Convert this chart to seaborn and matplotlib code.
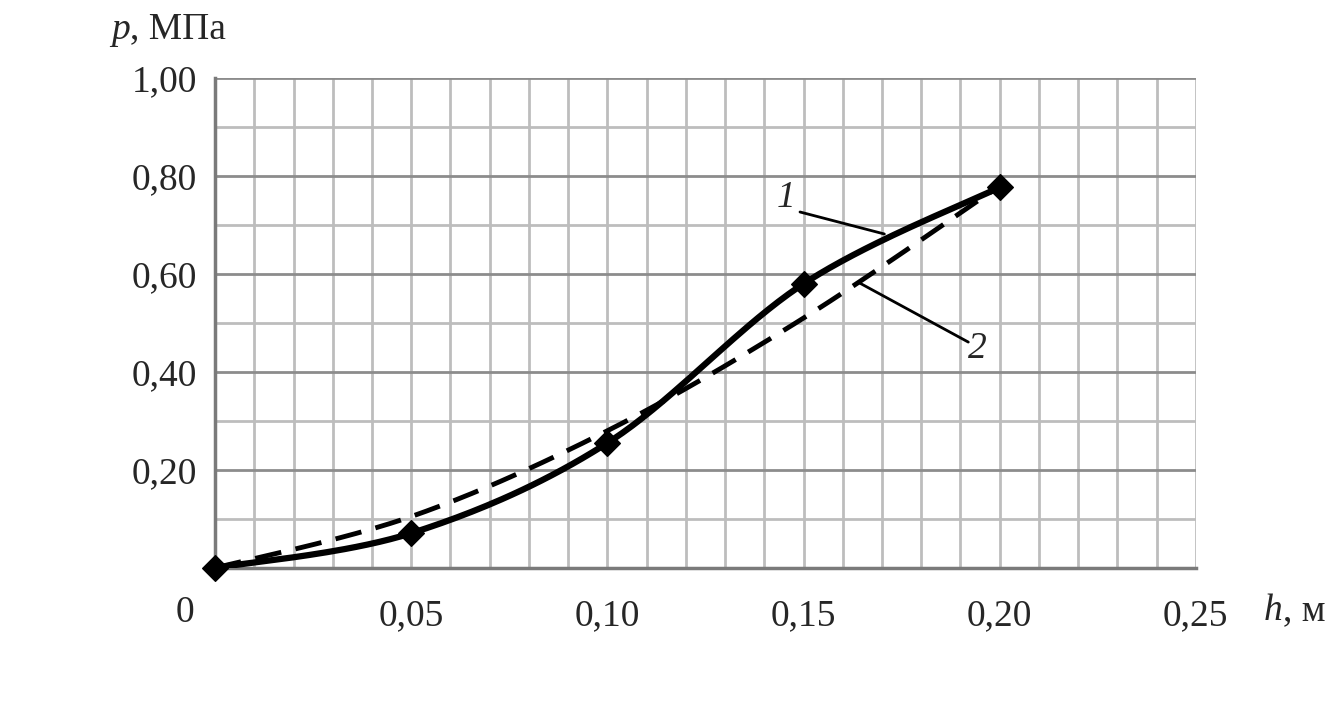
import numpy as np
import pandas as pd
import matplotlib
matplotlib.use("Agg")
import matplotlib.pyplot as plt
import seaborn as sns

# measured points (curve 1) and calculated curve (2)
h = [0.0, 0.05, 0.10, 0.15, 0.20]
p_exp = [0.0, 0.071, 0.255, 0.58, 0.777]
p_calc = [0.0, 0.105, 0.28, 0.51, 0.78]

x_ticks = [0.05, 0.10, 0.15, 0.20, 0.25]
x_labels = ["0,05", "0,10", "0,15", "0,20", "0,25"]
y_ticks = [0.2, 0.4, 0.6, 0.8, 1.0]
y_labels = ["0,20", "0,40", "0,60", "0,80", "1,00"]


def smooth(x, y, n=40):
    # Catmull-Rom smoothing like the spreadsheet "smoothed line"
    x = np.asarray(x, float)
    y = np.asarray(y, float)
    px = np.r_[x[0], x, x[-1]]
    py = np.r_[y[0], y, y[-1]]
    xs, ys = [], []
    t = np.linspace(0, 1, n)
    for i in range(1, len(px) - 2):
        for arr, out in ((px, xs), (py, ys)):
            p0, p1, p2, p3 = arr[i - 1], arr[i], arr[i + 1], arr[i + 2]
            seg = 0.5 * ((2 * p1) + (-p0 + p2) * t
                         + (2 * p0 - 5 * p1 + 4 * p2 - p3) * t ** 2
                         + (-p0 + 3 * p1 - 3 * p2 + p3) * t ** 3)
            out.extend(seg)
    return np.array(xs), np.array(ys)


sns.set_style("white")
plt.rcParams["font.family"] = ["Liberation Serif", "DejaVu Serif"]
FS = 27

fig = plt.figure(figsize=(13.39, 7.14), dpi=100)
ax = fig.add_axes([0.1606, 0.2045, 0.7325, 0.6863])

sx1, sy1 = smooth(h, p_exp)
sx2, sy2 = smooth(h, p_calc)
df1 = pd.DataFrame({"h": sx1, "p": sy1})
df2 = pd.DataFrame({"h": sx2, "p": sy2})
pts = pd.DataFrame({"h": h, "p": p_exp})

sns.lineplot(data=df1, x="h", y="p", sort=False, color="black", lw=4.5,
             ax=ax, zorder=4)
sns.lineplot(data=df2, x="h", y="p", sort=False, color="black", lw=3.5,
             ax=ax, zorder=5)
ax.lines[-1].set_dashes([5.5, 3])
sns.scatterplot(data=pts, x="h", y="p", marker="D", s=170, color="black",
                edgecolor="black", ax=ax, zorder=6, clip_on=False)

ax.set_xlim(0, 0.25)
ax.set_ylim(0, 1.0)

# grid
for xv in np.arange(0.01, 0.2501, 0.01):
    ax.axvline(xv, color="#bdbdbd", lw=2, zorder=1)
for i, yv in enumerate(np.arange(0.1, 1.001, 0.1)):
    major = (i % 2 == 1)
    ax.axhline(yv, color="#8c8c8c" if major else "#bdbdbd", lw=2, zorder=1)

for side in ["top", "right"]:
    ax.spines[side].set_visible(False)
ax.spines["left"].set_color("#7a7a7a")
ax.spines["left"].set_linewidth(2.5)
ax.spines["bottom"].set_color("#7a7a7a")
ax.spines["bottom"].set_linewidth(2.5)

ax.set_xticks(x_ticks)
ax.set_xticklabels(x_labels)
ax.set_yticks(y_ticks)
ax.set_yticklabels(y_labels)
ax.tick_params(axis="both", length=0, labelsize=FS)
ax.tick_params(axis="x", pad=22)
ax.tick_params(axis="y", pad=13)
ax.set_xlabel("")
ax.set_ylabel("")

ax.text(-0.0077, -0.092, "0", ha="center", va="center", fontsize=FS,
        clip_on=False)

# axis titles
tp = fig.text(0.083, 0.946, "p", fontsize=FS, style="italic", ha="left",
              va="baseline")
ax.annotate(", МПа", xy=(1, 0), xycoords=tp, fontsize=FS, ha="left",
            va="bottom", annotation_clip=False)
th = fig.text(0.944, 0.131, "h", fontsize=FS, style="italic", ha="left",
              va="baseline")
ax.annotate(", м", xy=(1, 0), xycoords=th, fontsize=FS, ha="left",
            va="bottom", annotation_clip=False)

# curve labels with leader lines
ax.plot([0.1491, 0.1706], [0.7265, 0.6816], color="black", lw=2, zorder=7)
ax.text(0.1455, 0.755, "1", fontsize=FS, style="italic", ha="center", va="center")
ax.plot([0.192, 0.1642], [0.461, 0.582], color="black", lw=2, zorder=7)
ax.text(0.1942, 0.448, "2", fontsize=FS, style="italic", ha="center", va="center")

fig.savefig("out.png", dpi=100)
